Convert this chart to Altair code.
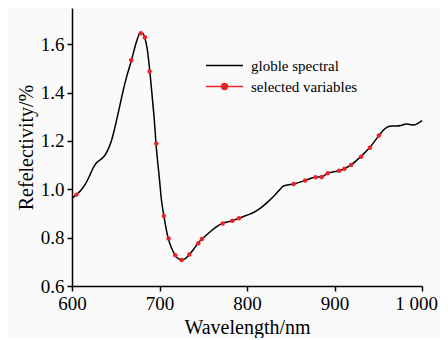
import altair as alt
import pandas as pd

# Global spectrum (wavelength nm, reflectivity %)
wl = [600, 605, 610, 615, 620, 624, 628, 633, 637, 641, 645, 648, 651, 654, 657,
      662, 668, 672, 675, 678, 681, 683, 686, 689, 692, 694, 696, 700, 702, 705,
      710, 714, 718, 722, 725, 729, 734, 739, 744, 748.5, 755, 765, 772, 783, 791,
      800, 808, 815, 822, 830, 836, 841, 846, 853, 866, 878, 885.5, 892, 905, 911,
      919, 930, 940, 951, 956, 961, 966, 971, 976, 982, 986, 990, 995, 1000]
refl = [0.962, 0.978, 0.995, 1.020, 1.055, 1.087, 1.110, 1.124, 1.138, 1.163, 1.200,
        1.240, 1.287, 1.335, 1.385, 1.460, 1.534, 1.590, 1.625, 1.648, 1.645, 1.629,
        1.580, 1.487, 1.370, 1.290, 1.189, 1.040, 0.963, 0.890, 0.797, 0.755, 0.727,
        0.712, 0.708, 0.712, 0.730, 0.752, 0.777, 0.794, 0.815, 0.845, 0.859, 0.870,
        0.880, 0.893, 0.905, 0.921, 0.942, 0.969, 0.993, 1.012, 1.018, 1.022, 1.036,
        1.050, 1.051, 1.066, 1.077, 1.085, 1.101, 1.135, 1.172, 1.223, 1.245, 1.259,
        1.262, 1.262, 1.264, 1.270, 1.268, 1.266, 1.272, 1.284]

# Selected variables
sel_wl = [605.1, 667.7, 678.7, 683.3, 688.7, 696.3, 705.0, 710.4, 718.0, 725.3,
          734.1, 744.4, 748.5, 772.2, 783.3, 790.8, 853.4, 866.4, 878.3, 885.5,
          892.3, 905.3, 911.4, 919.0, 930.4, 940.4, 950.7]
sel_refl = [0.978, 1.534, 1.646, 1.629, 1.487, 1.189, 0.890, 0.797, 0.727, 0.708,
            0.730, 0.777, 0.794, 0.859, 0.870, 0.880, 1.022, 1.036, 1.050, 1.051,
            1.066, 1.077, 1.085, 1.101, 1.135, 1.172, 1.223]

y_ticks = [0.6, 0.8, 1.0, 1.2, 1.4, 1.6]
x_ticks = [600, 700, 800, 900, 1000]

curve_df = pd.DataFrame({"wl": wl, "refl": refl, "series": "globle spectral"})
sel_df = pd.DataFrame({"wl": sel_wl, "refl": sel_refl, "series": "selected variables"})

RED = "#ee2028"
FONT = "Liberation Serif"

x_enc = alt.X("wl:Q", scale=alt.Scale(domain=[600, 1000], nice=False, zero=False),
              axis=alt.Axis(values=x_ticks, title="Wavelength/nm", format="d",
                            labelFlush=False, labelFont=FONT, titleFont=FONT,
                            labelOffset={"condition": {"test": "datum.value == 1000",
                                                       "value": -6}, "value": 0},
                            labelExpr="datum.value == 1000 ? '1 000' : datum.label"))
y_enc = alt.Y("refl:Q", scale=alt.Scale(domain=[0.6, 1.75], nice=False, zero=False),
              axis=alt.Axis(values=y_ticks, title="Refelectivity/%", format=".1f",
                            labelFlush=False, labelFont=FONT, titleFont=FONT))

line = alt.Chart(curve_df).mark_line(strokeWidth=1.5, interpolate="monotone").encode(
    x=x_enc, y=y_enc,
    stroke=alt.Stroke("series:N",
                      scale=alt.Scale(domain=["globle spectral"], range=["black"]),
                      legend=alt.Legend(title=None, orient="none", legendX=133, legendY=38,
                                        symbolType="stroke", symbolSize=1369,
                                        symbolStrokeWidth=1.5, labelFont=FONT)),
)

dot_path = ("M-1,0H1M0.16,0A0.16,0.16,0,1,1,-0.16,0A0.16,0.16,0,1,1,0.16,0Z")
points = alt.Chart(sel_df).mark_point(filled=True, size=20, color=RED, opacity=1,
                                      strokeWidth=0).encode(
    x=x_enc, y=y_enc,
    stroke=alt.Stroke("series:N",
                      scale=alt.Scale(domain=["selected variables"], range=[RED]),
                      legend=alt.Legend(title=None, orient="none", legendX=133, legendY=59,
                                        symbolType=dot_path, symbolSize=1369,
                                        symbolStrokeWidth=1.5, symbolFillColor=RED,
                                        labelFont=FONT)),
)

chart = (
    alt.layer(line, points)
    .resolve_scale(stroke="independent")
    .resolve_legend(stroke="independent")
    .properties(width=350, height=278,
                autosize=alt.AutoSizeParams(type="none"),
                padding={"left": 64, "top": 0, "right": 18, "bottom": 52},
                background="#fafafa")
    .configure_view(strokeWidth=0)
    .configure_axis(grid=False, domainColor="black", domainWidth=1.5,
                    tickColor="black", tickWidth=1.5, tickSize=5,
                    labelFont=FONT, labelFontSize=19, labelColor="black", labelPadding=3,
                    titleFont=FONT, titleFontSize=20, titleFontWeight="normal",
                    titleColor="black", titlePadding=4)
    .configure_legend(labelFont=FONT, labelFontSize=15, labelColor="black", labelOffset=7)
)

chart.save("out.html", embed_options={"renderer": "svg", "actions": False})
